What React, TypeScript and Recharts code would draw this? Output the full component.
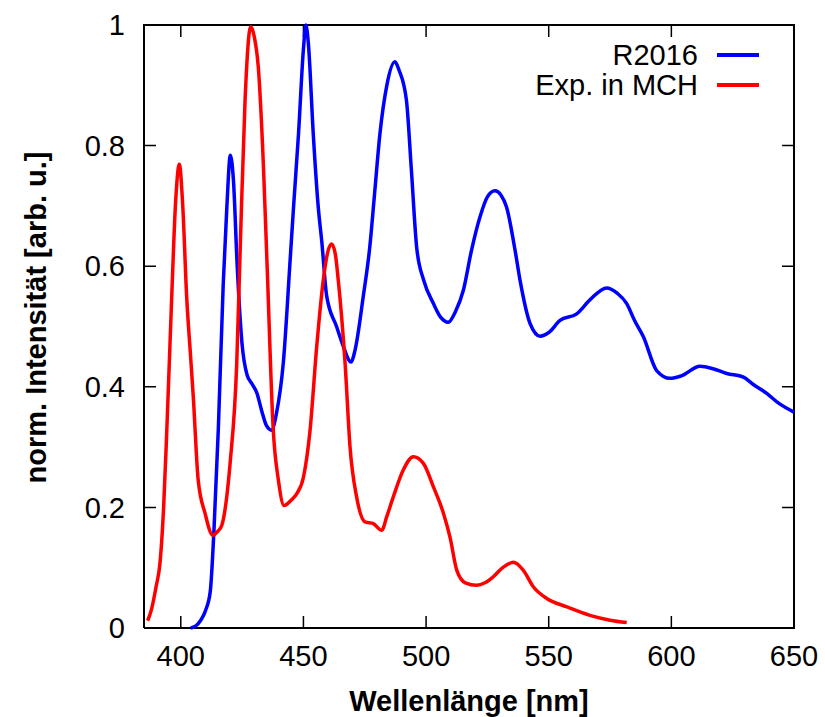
import React from 'react';
import { LineChart, Line, XAxis, YAxis, Legend } from 'recharts';

const r2016Wavelength = [
  404, 406, 408, 410, 412, 413.5, 415.3, 417.3, 418.8, 420.2, 421.5, 423, 425, 427, 429, 431, 433, 435, 437, 439,
  441.8, 444.5, 446, 448, 450, 451, 452, 454, 456, 457.5, 459.5, 463.5, 466, 469.4, 471, 474.4, 477, 479, 481.2, 484,
  487.3, 489, 492, 494, 496.2, 499, 503, 506, 509, 512, 515.2, 518.5, 522, 525, 528.1, 530.5, 532.8, 536.3, 538.3,
  542.4, 546.5, 550, 554.6, 561.4, 567, 573.6, 578, 581.8, 585, 588.6, 594, 599.5, 604, 611.7, 617, 622.6, 629.4,
  633, 638.9, 644, 650,
];
const r2016Intensity = [
  0, 0.003, 0.012, 0.028, 0.06, 0.16, 0.33, 0.57, 0.7, 0.784, 0.74, 0.6, 0.47, 0.42, 0.405, 0.39, 0.36, 0.335, 0.328,
  0.356, 0.44, 0.605, 0.7, 0.82, 0.96, 1.0, 0.97, 0.82, 0.7, 0.64, 0.55, 0.5, 0.47, 0.441, 0.46, 0.55, 0.63, 0.72, 0.82,
  0.9, 0.939, 0.925, 0.875, 0.76, 0.63, 0.577, 0.538, 0.515, 0.507, 0.525, 0.56, 0.626, 0.682, 0.715, 0.725, 0.718,
  0.698, 0.626, 0.577, 0.505, 0.484, 0.49, 0.51, 0.521, 0.545, 0.564, 0.555, 0.538, 0.51, 0.483, 0.427, 0.414, 0.418,
  0.434, 0.43, 0.422, 0.416, 0.405, 0.389, 0.372, 0.358,
];

const mchWavelength = [
  386.5, 388, 390, 391.5, 393, 394.3, 396.3, 397.8, 399.4, 400.8, 402.4, 404, 405.1, 407.1, 409.9, 413, 415, 416.7,
  418.5, 420.1, 422.8, 424.3, 426.2, 428.5, 430, 431.6, 433.7, 435.2, 437.7, 439.8, 442.1, 445, 447.3, 450, 452.7,
  455.4, 458.1, 460, 461.5, 463, 464.2, 467, 469, 471.7, 475.1, 478.5, 481.9, 484, 486.6, 490.7, 494.8, 498.9, 503,
  507.1, 509.8, 512.5, 516, 520.6, 524, 527.4, 531.5, 535.6, 539.6, 543.8, 549.2, 557.4, 566.8, 575, 581.8,
];
const mchIntensity = [
  0.012, 0.03, 0.07, 0.107, 0.2, 0.328, 0.549, 0.7, 0.769, 0.7, 0.549, 0.45, 0.383, 0.245, 0.19, 0.154, 0.16, 0.17,
  0.21, 0.273, 0.438, 0.64, 0.875, 0.997, 0.98, 0.93, 0.765, 0.6, 0.328, 0.245, 0.203, 0.212, 0.223, 0.25, 0.328,
  0.466, 0.577, 0.625, 0.637, 0.62, 0.577, 0.438, 0.3, 0.217, 0.176, 0.173, 0.162, 0.185, 0.217, 0.262, 0.284, 0.273,
  0.234, 0.19, 0.15, 0.096, 0.075, 0.071, 0.075, 0.085, 0.101, 0.109, 0.096, 0.068, 0.049, 0.035, 0.021, 0.013, 0.009,
];

const xTicks = [400, 450, 500, 550, 600, 650];
const yTicks = [0, 0.2, 0.4, 0.6, 0.8, 1];
const xDomain = [385, 650];
const yDomain = [0, 1];
const seriesNames = ['R2016', 'Exp. in MCH'];
const seriesColors = ['#0000ff', '#ff0000'];
const xLabel = 'Wellenlänge [nm]';
const yLabel = 'norm. Intensität [arb. u.]';

// layout (pixels)
const CHART_W = 825;
const CHART_H = 717;
const MARGIN = { top: 25, right: 31, bottom: 29, left: 0 };
const Y_AXIS_W = 144;
const X_AXIS_H = 60;
const PLOT_W = CHART_W - MARGIN.left - MARGIN.right - Y_AXIS_W;
const PLOT_H = CHART_H - MARGIN.top - MARGIN.bottom - X_AXIS_H;
const TICK_PX = 12;

const r2016Data = r2016Wavelength.map((x, i) => ({ x, y: r2016Intensity[i] }));
const mchData = mchWavelength.map((x, i) => ({ x, y: mchIntensity[i] }));

// plot frame (border box) in data space
const frameData = [
  { x: xDomain[0], y: yDomain[0] },
  { x: xDomain[1], y: yDomain[0] },
  { x: xDomain[1], y: yDomain[1] },
  { x: xDomain[0], y: yDomain[1] },
  { x: xDomain[0], y: yDomain[0] },
];

// inward tick marks on all four sides (gnuplot "mirror" style)
const tickDx = (TICK_PX * (xDomain[1] - xDomain[0])) / PLOT_W;
const tickDy = (TICK_PX * (yDomain[1] - yDomain[0])) / PLOT_H;
const tickMarkData: { x: number; y: number | null }[] = [];
xTicks.forEach((t) => {
  tickMarkData.push({ x: t, y: yDomain[0] }, { x: t, y: yDomain[0] + tickDy }, { x: t, y: null });
  tickMarkData.push({ x: t, y: yDomain[1] }, { x: t, y: yDomain[1] - tickDy }, { x: t, y: null });
});
yTicks.forEach((v) => {
  tickMarkData.push({ x: xDomain[0], y: v }, { x: xDomain[0] + tickDx, y: v }, { x: xDomain[0], y: null });
  tickMarkData.push({ x: xDomain[1], y: v }, { x: xDomain[1] - tickDx, y: v }, { x: xDomain[1], y: null });
});

const FONT = '"Liberation Sans", Arial, Helvetica, sans-serif';
const tickStyle = { fontSize: 29, fill: '#000', fontFamily: FONT };

const YLabel = (props: any) => {
  const vb = props.viewBox || { x: 0, y: 0, width: 0, height: 0 };
  const cx = vb.x + 46;
  const cy = vb.y + vb.height / 2 - 9;
  return (
    <text
      x={cx}
      y={cy}
      textAnchor="middle"
      transform={`rotate(-90, ${cx}, ${cy})`}
      style={{ fontSize: 29, fontWeight: 'bold', fontFamily: FONT, fill: '#000' }}
    >
      {yLabel}
    </text>
  );
};

const XLabel = (props: any) => {
  const vb = props.viewBox || { x: 0, y: 0, width: 0, height: 0 };
  return (
    <text
      x={vb.x + vb.width / 2}
      y={vb.y + 83}
      textAnchor="middle"
      style={{ fontSize: 29, fontWeight: 'bold', fontFamily: FONT, fill: '#000' }}
    >
      {xLabel}
    </text>
  );
};

const LegendContent = () => (
  <div style={{ fontFamily: FONT, fontSize: 29, color: '#000' }}>
    {seriesNames.map((name, i) => (
      <div
        key={name}
        style={{ display: 'flex', justifyContent: 'flex-end', alignItems: 'center', height: 30, lineHeight: '30px' }}
      >
        <span>{name}</span>
        <span style={{ display: 'inline-block', width: 42, height: 4, background: seriesColors[i], marginLeft: 19 }} />
      </div>
    ))}
  </div>
);

export default function App() {
  return (
    <div style={{ position: 'absolute', left: 0, top: 0, width: CHART_W, height: CHART_H, background: '#fff' }}>
      <LineChart width={CHART_W} height={CHART_H} margin={MARGIN}>
        <XAxis
          xAxisId="bottom"
          type="number"
          dataKey="x"
          domain={xDomain}
          ticks={xTicks}
          height={X_AXIS_H}
          tickSize={-TICK_PX}
          tickMargin={29}
          tick={tickStyle}
          axisLine={false}
          tickLine={false}
          label={<XLabel />}
        />
        <YAxis
          yAxisId="left"
          type="number"
          domain={yDomain}
          ticks={yTicks}
          width={Y_AXIS_W}
          tickSize={-TICK_PX}
          tickMargin={31}
          tick={tickStyle}
          axisLine={false}
          tickLine={false}
          label={<YLabel />}
        />
        <Legend
          layout="vertical"
          align="center"
          verticalAlign="middle"
          content={<LegendContent />}
          wrapperStyle={{ position: 'absolute', top: 40, left: 459, width: 300, height: 60 }}
        />
        <Line
          xAxisId="bottom"
          yAxisId="left"
          data={tickMarkData}
          dataKey="y"
          type="linear"
          stroke="#000"
          strokeWidth={1.5}
          dot={false}
          activeDot={false}
          legendType="none"
          isAnimationActive={false}
        />
        <Line
          xAxisId="bottom"
          yAxisId="left"
          data={frameData}
          dataKey="y"
          type="linear"
          stroke="#000"
          strokeWidth={2}
          strokeLinejoin="miter"
          dot={false}
          activeDot={false}
          legendType="none"
          isAnimationActive={false}
        />
        <Line
          xAxisId="bottom"
          yAxisId="left"
          data={r2016Data}
          dataKey="y"
          name={seriesNames[0]}
          type="monotone"
          stroke={seriesColors[0]}
          strokeWidth={3.5}
          dot={false}
          activeDot={false}
          isAnimationActive={false}
        />
        <Line
          xAxisId="bottom"
          yAxisId="left"
          data={mchData}
          dataKey="y"
          name={seriesNames[1]}
          type="monotone"
          stroke={seriesColors[1]}
          strokeWidth={3.5}
          dot={false}
          activeDot={false}
          isAnimationActive={false}
        />
      </LineChart>
    </div>
  );
}
